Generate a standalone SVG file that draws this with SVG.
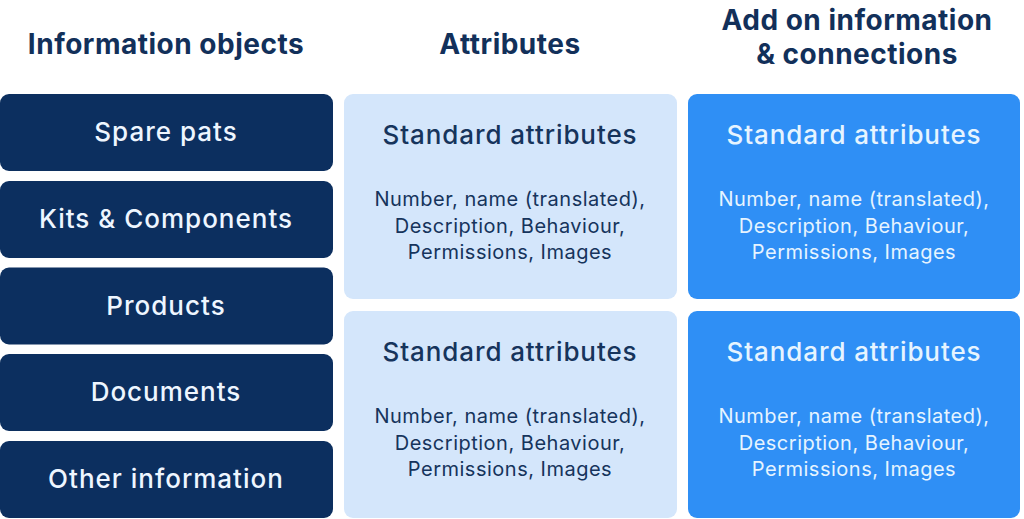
<svg xmlns="http://www.w3.org/2000/svg" width="1024" height="519" viewBox="0 0 1024 519">
<style>
.hd{font-family:Inter,"Open Sans","Liberation Sans",sans-serif;font-size:28px;font-weight:700;letter-spacing:0.5px;fill:#12305a;text-anchor:middle}
.obj{fill:#0c2f5f}
.objt{font-family:Inter,"Open Sans","Liberation Sans",sans-serif;font-size:26px;font-weight:500;letter-spacing:1px;fill:#eef6ff;text-anchor:middle}
.lt{fill:#d4e6fb}
.bl{fill:#2f8ff5}
.st{font-family:Inter,"Open Sans","Liberation Sans",sans-serif;font-size:26px;font-weight:500;letter-spacing:0.9px;text-anchor:middle}
.bd{font-family:Inter,"Open Sans","Liberation Sans",sans-serif;font-size:20px;font-weight:400;letter-spacing:0.5px;text-anchor:middle}
.dk{fill:#16345c}
.wh{fill:#e6f4ff}
</style>
<rect width="1024" height="519" fill="#ffffff"/>
<g id="headers">
<text class="hd" x="166" y="54">Information objects</text>
<text class="hd" x="510" y="54">Attributes</text>
<text class="hd" x="857" y="30">Add on information</text>
<text class="hd" x="857" y="64">&amp; connections</text>
</g>
<g id="obj-spare-parts"><rect class="obj" x="0" y="94" width="333" height="77" rx="9"/><text class="objt" x="166" y="141">Spare pats</text></g>
<g id="obj-kits"><rect class="obj" x="0" y="181" width="333" height="77" rx="9"/><text class="objt" x="166" y="228">Kits &amp; Components</text></g>
<g id="obj-products"><rect class="obj" x="0" y="267.5" width="333" height="77" rx="9"/><text class="objt" x="166" y="315">Products</text></g>
<g id="obj-documents"><rect class="obj" x="0" y="354" width="333" height="77" rx="9"/><text class="objt" x="166" y="401">Documents</text></g>
<g id="obj-other"><rect class="obj" x="0" y="441" width="333" height="77" rx="9"/><text class="objt" x="166" y="488">Other information</text></g>
<g id="attr-top"><rect class="lt" x="344" y="94" width="333" height="205" rx="9"/>
<text class="st dk" x="510" y="144">Standard attributes</text>
<text class="bd dk" x="510" y="206">Number, name (translated),</text>
<text class="bd dk" x="510" y="233">Description, Behaviour,</text>
<text class="bd dk" x="510" y="259">Permissions, Images</text></g>
<g id="attr-bottom"><rect class="lt" x="344" y="311" width="333" height="207" rx="9"/>
<text class="st dk" x="510" y="361">Standard attributes</text>
<text class="bd dk" x="510" y="423">Number, name (translated),</text>
<text class="bd dk" x="510" y="450">Description, Behaviour,</text>
<text class="bd dk" x="510" y="476">Permissions, Images</text></g>
<g id="addon-top"><rect class="bl" x="688" y="94" width="332" height="205" rx="9"/>
<text class="st wh" x="854" y="144">Standard attributes</text>
<text class="bd wh" x="854" y="206">Number, name (translated),</text>
<text class="bd wh" x="854" y="233">Description, Behaviour,</text>
<text class="bd wh" x="854" y="259">Permissions, Images</text></g>
<g id="addon-bottom"><rect class="bl" x="688" y="311" width="332" height="207" rx="9"/>
<text class="st wh" x="854" y="361">Standard attributes</text>
<text class="bd wh" x="854" y="423">Number, name (translated),</text>
<text class="bd wh" x="854" y="450">Description, Behaviour,</text>
<text class="bd wh" x="854" y="476">Permissions, Images</text></g>
<g id="connectors"/>
</svg>
